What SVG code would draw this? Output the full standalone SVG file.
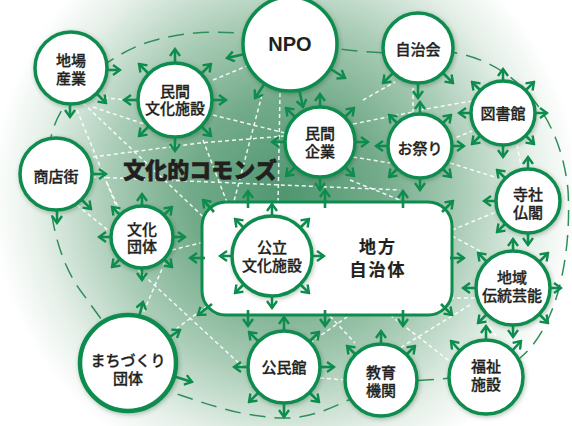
<svg xmlns="http://www.w3.org/2000/svg" width="572" height="426" viewBox="0 0 572 426">
<defs>
<radialGradient id="bg" gradientUnits="userSpaceOnUse" cx="285" cy="195" r="320">
<stop offset="0" stop-color="#4f9670"/>
<stop offset="0.3" stop-color="#73ab8a"/>
<stop offset="0.55" stop-color="#a9ccb6"/>
<stop offset="0.78" stop-color="#e6f0e9"/>
<stop offset="0.92" stop-color="#ffffff"/>
</radialGradient>
<filter id="sh" x="-20%" y="-20%" width="140%" height="140%">
<feDropShadow dx="1" dy="1.5" stdDeviation="2" flood-color="#0b3b22" flood-opacity="0.3"/>
</filter>
<marker id="ah" viewBox="0 0 12 12" refX="10" refY="6" markerWidth="12" markerHeight="12" markerUnits="userSpaceOnUse" orient="auto">
<path d="M3,1 L10,6 L3,11" fill="none" stroke="#0e8c4e" stroke-width="2.4"/>
</marker>
<style>
.ring{fill:#fff;stroke:#0e8c4e;stroke-width:3.5;filter:url(#sh)}
.lbl{font-family:"Noto Sans CJK JP","Noto Sans",sans-serif;font-size:15px;font-weight:500;fill:#231f20;stroke:#231f20;stroke-width:0.3;text-anchor:middle}
.arr line{stroke:#0e8c4e;stroke-width:2.6;marker-end:url(#ah)}
.wd path{stroke:#fff;stroke-width:1.5;stroke-dasharray:4 3;fill:none;opacity:0.9}
.loop{fill:none;stroke:#2f8f5a;stroke-width:1.5;stroke-dasharray:16 9}
</style>
</defs>
<rect x="0" y="0" width="572" height="426" fill="url(#bg)"/>
<g id="connectors">
<path class="loop" d="M50,150 C48,120 80,70 140,45 C180,30 230,28 290,40 C340,52 400,56 450,52 C510,60 560,110 568,190 C572,260 555,330 520,358 C490,380 440,378 400,382 C360,386 330,420 280,418 C240,416 210,405 180,395 C140,380 110,330 80,290 C55,255 45,200 50,150 Z"/>
<g class="wd">
<path d="M97,97 L127,100"/>
<path d="M83,103 L215,228"/>
<path d="M77,110 L120,215"/>
<path d="M93,107 L150,126"/>
<path d="M93,157 L200,143 L285,136"/>
<path d="M92,177 L400,190"/>
<path d="M107,183 L118,207"/>
<path d="M77,205 L115,236"/>
<path d="M141,318 L165,262"/>
<path d="M138,270 L242,366"/>
<path d="M176,329 L215,300"/>
<path d="M172,250 L204,242"/>
<path d="M213,80 L247,66"/>
<path d="M213,115 L285,133"/>
<path d="M262,95 L233,205"/>
<path d="M280,93 L278,205"/>
<path d="M203,140 L228,205"/>
<path d="M353,124 L413,112"/>
<path d="M363,100 L395,82"/>
<path d="M413,88 L413,112"/>
<path d="M420,110 L472,101"/>
<path d="M450,140 L472,131"/>
<path d="M450,163 L498,178"/>
<path d="M353,157 L390,163"/>
<path d="M350,180 L400,200"/>
<path d="M517,145 L522,170"/>
<path d="M452,230 L496,212"/>
<path d="M452,236 L480,251"/>
<path d="M470,305 L400,348"/>
<path d="M390,315 L452,363"/>
<path d="M450,298 L478,298"/>
<path d="M310,343 L347,317"/>
<path d="M330,316 L355,343"/>
<path d="M320,378 L346,380"/>
<path d="M490,327 L496,336"/>
</g>
</g>
<g id="chiho-jichitai">
<rect x="202" y="202" width="250" height="113" rx="24" fill="#fff" stroke="#0e8c4e" stroke-width="3"/>
<text class="lbl" style="font-size:17px;font-weight:700;letter-spacing:2px;stroke-width:0.2"><tspan x="378" y="253">地方</tspan><tspan x="378" y="276">自治体</tspan></text>
<g class="arr">
<line x1="248" y1="208" x2="248" y2="191"/>
<line x1="325" y1="208" x2="325" y2="190"/>
<line x1="403" y1="208" x2="403" y2="191"/>
<line x1="214" y1="212" x2="203" y2="200"/>
<line x1="442" y1="212" x2="453" y2="201"/>
<line x1="450" y1="258" x2="464" y2="258"/>
<line x1="205" y1="258" x2="190" y2="258"/>
<line x1="248" y1="310" x2="248" y2="326"/>
<line x1="325" y1="310" x2="325" y2="326"/>
<line x1="403" y1="310" x2="403" y2="326"/>
<line x1="212" y1="304" x2="198" y2="315"/>
<line x1="441" y1="304" x2="452" y2="315"/>
</g>
</g>
<g id="jiba-sangyo">
<circle class="ring" cx="71" cy="68" r="36"/>
<text class="lbl"><tspan x="71" y="66">地場</tspan><tspan x="71" y="84">産業</tspan></text>
<g class="arr">
<line x1="106" y1="70" x2="120" y2="70"/>
<line x1="96" y1="93" x2="106" y2="103"/>
<line x1="70" y1="103" x2="70" y2="117"/>
</g>
</g>
<g id="minkan-bunka-shisetsu">
<circle class="ring" cx="175" cy="100" r="37"/>
<text class="lbl"><tspan x="175" y="97">民間</tspan><tspan x="175" y="114">文化施設</tspan></text>
<g class="arr">
<line x1="175" y1="64" x2="175" y2="49"/>
<line x1="175" y1="136" x2="175" y2="151"/>
<line x1="139" y1="100" x2="124" y2="100"/>
<line x1="211" y1="100" x2="226" y2="100"/>
<line x1="149.5" y1="74.5" x2="139" y2="64"/>
<line x1="200.5" y1="74.5" x2="211" y2="64"/>
<line x1="149.5" y1="125.5" x2="139" y2="136"/>
<line x1="200.5" y1="125.5" x2="211" y2="136"/>
</g>
</g>
<g id="npo">
<circle class="ring" cx="290" cy="44" r="47"/>
<text x="290" y="51" text-anchor="middle" style="font-family:'Liberation Sans',Arial,sans-serif;font-size:20px;font-weight:700;fill:#231f20">NPO</text>
<g class="arr">
<line x1="245" y1="54" x2="227" y2="58"/>
<line x1="265" y1="83" x2="255" y2="98"/>
<line x1="299" y1="89" x2="303" y2="107"/>
<line x1="329" y1="68" x2="345" y2="78"/>
</g>
</g>
<g id="jichikai">
<circle class="ring" cx="418" cy="48" r="35"/>
<text class="lbl" x="418" y="55">自治会</text>
<g class="arr">
<line x1="393" y1="73" x2="383" y2="83"/>
<line x1="418" y1="83" x2="418" y2="98"/>
<line x1="443" y1="73" x2="453" y2="83"/>
</g>
</g>
<g id="toshokan">
<circle class="ring" cx="503" cy="113" r="32"/>
<text class="lbl" x="503" y="119">図書館</text>
<g class="arr">
<line x1="503" y1="82" x2="503" y2="69"/>
<line x1="503" y1="144" x2="503" y2="157"/>
<line x1="472" y1="113" x2="459" y2="113"/>
<line x1="534" y1="113" x2="547" y2="113"/>
<line x1="481" y1="91" x2="472" y2="82"/>
<line x1="525" y1="91" x2="534" y2="82"/>
<line x1="481" y1="135" x2="472" y2="144"/>
<line x1="525" y1="135" x2="534" y2="144"/>
</g>
</g>
<g id="minkan-kigyo">
<circle class="ring" cx="320" cy="142" r="35"/>
<text class="lbl"><tspan x="320" y="139">民間</tspan><tspan x="320" y="157">企業</tspan></text>
<g class="arr">
<line x1="320" y1="108" x2="320" y2="94"/>
<line x1="320" y1="176" x2="320" y2="190"/>
<line x1="286" y1="142" x2="272" y2="142"/>
<line x1="354" y1="142" x2="368" y2="142"/>
<line x1="296" y1="118" x2="286" y2="108"/>
<line x1="344" y1="118" x2="354" y2="108"/>
<line x1="296" y1="166" x2="286" y2="176"/>
<line x1="344" y1="166" x2="354" y2="176"/>
</g>
</g>
<g id="omatsuri">
<circle class="ring" cx="420" cy="146" r="32"/>
<text class="lbl" x="420" y="154">お祭り</text>
<g class="arr">
<line x1="420" y1="115" x2="420" y2="102"/>
<line x1="420" y1="177" x2="420" y2="190"/>
<line x1="389" y1="146" x2="376" y2="146"/>
<line x1="451" y1="146" x2="464" y2="146"/>
<line x1="398" y1="124" x2="389" y2="115"/>
<line x1="442" y1="124" x2="451" y2="115"/>
<line x1="398" y1="168" x2="389" y2="177"/>
<line x1="442" y1="168" x2="451" y2="177"/>
</g>
</g>
<g id="shotengai">
<circle class="ring" cx="56" cy="174" r="36"/>
<text class="lbl" x="56" y="182">商店街</text>
<g class="arr">
<line x1="92" y1="174" x2="106" y2="174"/>
<line x1="81" y1="199" x2="91" y2="209"/>
<line x1="57" y1="210" x2="57" y2="223"/>
</g>
</g>
<g id="bunka-dantai">
<circle class="ring" cx="142" cy="237" r="31"/>
<text class="lbl"><tspan x="142" y="235">文化</tspan><tspan x="142" y="252">団体</tspan></text>
<g class="arr">
<line x1="142" y1="207" x2="142" y2="194"/>
<line x1="142" y1="267" x2="142" y2="280"/>
<line x1="112" y1="237" x2="99" y2="237"/>
<line x1="172" y1="237" x2="185" y2="237"/>
<line x1="121" y1="216" x2="112" y2="207"/>
<line x1="163" y1="216" x2="172" y2="207"/>
<line x1="121" y1="258" x2="112" y2="267"/>
<line x1="163" y1="258" x2="172" y2="267"/>
</g>
</g>
<g id="koritsu-bunka-shisetsu">
<circle class="ring" cx="272" cy="256" r="40"/>
<text class="lbl"><tspan x="272" y="253">公立</tspan><tspan x="272" y="271">文化施設</tspan></text>
<g class="arr">
<line x1="272" y1="217" x2="272" y2="204"/>
<line x1="272" y1="295" x2="272" y2="308"/>
<line x1="233" y1="256" x2="220" y2="256"/>
<line x1="311" y1="256" x2="324" y2="256"/>
<line x1="244" y1="228" x2="235" y2="219"/>
<line x1="300" y1="228" x2="309" y2="219"/>
<line x1="244" y1="284" x2="235" y2="293"/>
<line x1="300" y1="284" x2="309" y2="293"/>
</g>
</g>
<g id="jisha-bukkaku">
<circle class="ring" cx="528" cy="201" r="32"/>
<text class="lbl"><tspan x="528" y="200">寺社</tspan><tspan x="528" y="218">仏閣</tspan></text>
<g class="arr">
<line x1="528" y1="170" x2="528" y2="157"/>
<line x1="506" y1="179" x2="497" y2="170"/>
<line x1="497" y1="201" x2="484" y2="201"/>
<line x1="506" y1="223" x2="497" y2="232"/>
<line x1="528" y1="232" x2="528" y2="245"/>
</g>
</g>
<g id="chiiki-dento-geino">
<circle class="ring" cx="513" cy="288" r="37"/>
<text class="lbl"><tspan x="512" y="283">地域</tspan><tspan x="512" y="301">伝統芸能</tspan></text>
<g class="arr">
<line x1="513" y1="252" x2="513" y2="239"/>
<line x1="513" y1="324" x2="513" y2="337"/>
<line x1="477" y1="288" x2="463" y2="288"/>
<line x1="549" y1="288" x2="561" y2="288"/>
<line x1="487.5" y1="262.5" x2="478" y2="253"/>
<line x1="538.5" y1="262.5" x2="548" y2="253"/>
<line x1="487.5" y1="313.5" x2="478" y2="323"/>
<line x1="538.5" y1="313.5" x2="548" y2="323"/>
</g>
</g>
<g id="fukushi-shisetsu">
<circle class="ring" cx="486" cy="377" r="37"/>
<text class="lbl"><tspan x="486" y="372">福祉</tspan><tspan x="486" y="390">施設</tspan></text>
<g class="arr">
<line x1="486" y1="341" x2="486" y2="326"/>
<line x1="460" y1="351" x2="451" y2="341"/>
<line x1="512" y1="351" x2="521" y2="341"/>
</g>
</g>
<g id="kyoiku-kikan">
<circle class="ring" cx="381" cy="380" r="36"/>
<text class="lbl"><tspan x="381" y="378">教育</tspan><tspan x="381" y="396">機関</tspan></text>
<g class="arr">
<line x1="381" y1="345" x2="381" y2="331"/>
<line x1="356" y1="355" x2="347" y2="346"/>
<line x1="406" y1="355" x2="415" y2="346"/>
</g>
</g>
<g id="kominkan">
<circle class="ring" cx="284" cy="367" r="36"/>
<text class="lbl" x="284" y="373">公民館</text>
<g class="arr">
<line x1="284" y1="332" x2="284" y2="317"/>
<line x1="284" y1="402" x2="284" y2="417"/>
<line x1="249" y1="367" x2="234" y2="367"/>
<line x1="319" y1="367" x2="334" y2="367"/>
<line x1="259" y1="342" x2="249" y2="332"/>
<line x1="309" y1="342" x2="319" y2="332"/>
<line x1="259" y1="392" x2="249" y2="402"/>
<line x1="309" y1="392" x2="319" y2="402"/>
</g>
</g>
<g id="machizukuri-dantai">
<circle class="ring" cx="128" cy="363" r="48" style="stroke-width:4.5"/>
<text class="lbl"><tspan x="128" y="366">まちづくり</tspan><tspan x="128" y="384">団体</tspan></text>
<g class="arr">
<line x1="139" y1="317" x2="143" y2="302"/>
<line x1="168" y1="338" x2="180" y2="330"/>
<line x1="173" y1="376" x2="192" y2="382"/>
</g>
</g>
<g id="title">
<text x="200" y="178" text-anchor="middle" style="font-family:'Noto Sans CJK JP','Noto Sans',sans-serif;font-size:22px;font-weight:900;fill:#231f20;stroke:#231f20;stroke-width:0.6">文化的コモンズ</text>
</g>
</svg>
